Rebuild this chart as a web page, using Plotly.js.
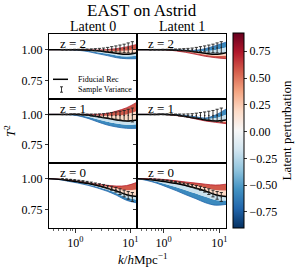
<!DOCTYPE html>
<html><head><meta charset="utf-8">
<script src="https://cdn.plot.ly/plotly-3.0.1.min.js"></script>
<style>body{margin:0;background:#fff}#plot{width:301px;height:273px}</style>
</head><body><div id="plot"></div>
<script>
// ---- data ----
const kGrid = [0.33, 0.5, 0.75, 1.1, 1.7, 2.5, 3.8, 5.6, 8.5, 13.2];
const levels = [-0.9, -0.45, 0, 0.45, 0.9];

const fidZ2 = [1.0, 1.0, 1.0, 0.999, 0.996, 0.99, 0.98, 0.97, 0.962, 0.975];
const fidZ1 = [1.0, 1.0, 1.0, 1.0, 0.994, 0.982, 0.968, 0.955, 0.946, 0.955];
const fidZ0 = [1.0, 0.995, 0.985, 0.974, 0.96, 0.944, 0.922, 0.9, 0.87, 0.855];

// z = 2, latent 0
const z2L0_m090 = [1.0, 1.0, 0.999, 0.995, 0.984, 0.968, 0.952, 0.935, 0.927, 0.927];
const z2L0_m045 = [1.0, 1.0, 1.0, 0.997, 0.99, 0.979, 0.966, 0.953, 0.945, 0.951];
const z2L0_p045 = [1.0, 1.0, 1.0, 0.999, 0.998, 0.994, 0.99, 0.989, 0.992, 1.008];
const z2L0_p090 = [1.0, 1.0, 1.0, 1.0, 0.999, 0.997, 1.0, 1.008, 1.022, 1.042];
// z = 2, latent 1
const z2L1_m090 = [1.0, 1.0, 1.0, 1.0, 0.998, 0.995, 0.995, 1.008, 1.032, 1.06];
const z2L1_m045 = [1.0, 1.0, 1.0, 1.0, 0.997, 0.992, 0.987, 0.988, 0.997, 1.017];
const z2L1_p045 = [1.0, 1.0, 1.0, 0.999, 0.993, 0.984, 0.971, 0.958, 0.948, 0.951];
const z2L1_p090 = [1.0, 1.0, 1.0, 0.998, 0.989, 0.978, 0.962, 0.946, 0.935, 0.927];
// z = 1, latent 0
const z1L0_m090 = [1.0, 1.0, 0.998, 0.989, 0.967, 0.94, 0.913, 0.897, 0.886, 0.886];
const z1L0_m045 = [1.0, 1.0, 0.999, 0.995, 0.981, 0.961, 0.94, 0.926, 0.916, 0.92];
const z1L0_p045 = [1.0, 1.0, 1.0, 1.0, 0.997, 0.991, 0.988, 0.991, 1.0, 1.027];
const z1L0_p090 = [1.0, 1.0, 1.0, 1.0, 1.0, 1.0, 1.008, 1.027, 1.054, 1.1];
// z = 1, latent 1
const z1L1_m090 = [1.0, 1.0, 1.0, 1.0, 0.997, 0.99, 0.98, 0.97, 0.995, 1.043];
const z1L1_m045 = [1.0, 1.0, 1.0, 1.0, 0.996, 0.986, 0.974, 0.962, 0.97, 0.998];
const z1L1_p045 = [1.0, 1.0, 1.0, 1.0, 0.992, 0.981, 0.965, 0.95, 0.94, 0.94];
const z1L1_p090 = [1.0, 1.0, 1.0, 0.999, 0.99, 0.98, 0.962, 0.946, 0.935, 0.924];
// z = 0, latent 0
const z0L0_m090 = [1.0, 0.993, 0.978, 0.965, 0.946, 0.925, 0.898, 0.866, 0.825, 0.804];
const z0L0_m045 = [1.0, 0.994, 0.982, 0.97, 0.953, 0.935, 0.91, 0.883, 0.848, 0.83];
const z0L0_p045 = [1.0, 0.995, 0.986, 0.976, 0.963, 0.95, 0.934, 0.92, 0.907, 0.912];
const z0L0_p090 = [1.0, 0.996, 0.988, 0.978, 0.966, 0.955, 0.946, 0.94, 0.944, 0.97];
// z = 0, latent 1
const z0L1_m090 = [1.0, 0.985, 0.963, 0.935, 0.902, 0.87, 0.838, 0.806, 0.786, 0.792];
const z0L1_m045 = [1.0, 0.99, 0.974, 0.955, 0.931, 0.907, 0.88, 0.853, 0.828, 0.823];
const z0L1_p045 = [1.0, 0.998, 0.991, 0.983, 0.971, 0.958, 0.943, 0.927, 0.909, 0.905];
const z0L1_p090 = [1.0, 1.0, 0.997, 0.992, 0.982, 0.973, 0.964, 0.955, 0.948, 0.955];

// sample variance points
const kErr = [0.58, 0.69, 0.82, 0.97, 1.15, 1.37, 1.63, 1.94, 2.30, 2.73, 3.25, 3.86, 4.58, 5.45, 6.47, 7.69, 9.13, 10.85];
const errZ2mean = [1.0, 1.0, 1.0, 1.0, 1.0, 1.0, 1.0, 1.0, 1.0, 1.0, 1.0, 1.002, 1.004, 1.006, 1.008, 1.01, 1.014, 1.018];
const errZ2sig  = [0.002, 0.002, 0.002, 0.003, 0.003, 0.004, 0.005, 0.006, 0.008, 0.01, 0.013, 0.016, 0.02, 0.024, 0.029, 0.034, 0.04, 0.046];
const errZ1mean = [1.0, 1.0, 1.0, 1.0, 1.0, 0.999, 0.997, 0.995, 0.993, 0.991, 0.99, 0.99, 0.99, 0.99, 0.99, 0.99, 0.992, 0.995];
const errZ1sig  = [0.002, 0.002, 0.003, 0.003, 0.004, 0.005, 0.006, 0.008, 0.01, 0.013, 0.016, 0.02, 0.025, 0.03, 0.036, 0.042, 0.05, 0.057];
const errZ0mean = [0.997, 0.995, 0.992, 0.988, 0.984, 0.979, 0.973, 0.966, 0.958, 0.95, 0.942, 0.932, 0.922, 0.91, 0.895, 0.88, 0.865, 0.852];
const errZ0sig  = [0.002, 0.002, 0.002, 0.003, 0.003, 0.004, 0.005, 0.006, 0.007, 0.009, 0.011, 0.013, 0.016, 0.019, 0.023, 0.027, 0.031, 0.036];

const colLabels = ['Latent 0', 'Latent 1'];
const rowLabels = ['z = 2', 'z = 1', 'z = 0'];
const xTickVals = [1, 10];
const xTickText = ['10<sup>0</sup>', '10<sup>1</sup>'];
const yTickVals = [0.75, 1.0];
const yTickText = ['0.75', '1.00'];
const cbTickVals = [-0.75, -0.5, -0.25, 0, 0.25, 0.5, 0.75];
const cbTickText = ['\u22120.75', '\u22120.50', '\u22120.25', '0.00', '0.25', '0.50', '0.75'];
const cMin = -0.9, cMax = 0.92;

// ---- styling / assembly ----
const stops = [[0,[5,48,97]],[0.1,[33,102,172]],[0.2,[67,147,195]],[0.3,[146,197,222]],[0.4,[209,229,240]],[0.5,[247,247,247]],[0.6,[253,219,199]],[0.7,[244,165,130]],[0.8,[214,96,77]],[0.9,[178,24,43]],[1,[103,0,31]]];
const colorscale = stops.map(s => [s[0], 'rgb(' + s[1].join(',') + ')']);
function cmap(v) {
  let t = (v - cMin) / (cMax - cMin); t = Math.max(0, Math.min(1, t));
  for (let i = 0; i < stops.length - 1; i++) {
    const a = stops[i], b = stops[i + 1];
    if (t <= b[0]) {
      const f = (t - a[0]) / (b[0] - a[0]);
      return 'rgb(' + a[1].map((c, j) => Math.round(c + f * (b[1][j] - c))).join(',') + ')';
    }
  }
  return 'rgb(103,0,31)';
}

const panels = [
  {fan: [z2L0_m090, z2L0_m045, fidZ2, z2L0_p045, z2L0_p090], fid: fidZ2, em: errZ2mean, es: errZ2sig},
  {fan: [z2L1_m090, z2L1_m045, fidZ2, z2L1_p045, z2L1_p090], fid: fidZ2, em: errZ2mean, es: errZ2sig},
  {fan: [z1L0_m090, z1L0_m045, fidZ1, z1L0_p045, z1L0_p090], fid: fidZ1, em: errZ1mean, es: errZ1sig},
  {fan: [z1L1_m090, z1L1_m045, fidZ1, z1L1_p045, z1L1_p090], fid: fidZ1, em: errZ1mean, es: errZ1sig},
  {fan: [z0L0_m090, z0L0_m045, fidZ0, z0L0_p045, z0L0_p090], fid: fidZ0, em: errZ0mean, es: errZ0sig},
  {fan: [z0L1_m090, z0L1_m045, fidZ0, z0L1_p045, z0L1_p090], fid: fidZ0, em: errZ0mean, es: errZ0sig}
];

const W = 301, H = 273;
const px = v => v / W, py = v => (H - v) / H;
const colDom = [[px(49), px(137)], [px(137), px(226)]];
const rowDom = [[py(99), py(34)], [py(163), py(99)], [py(228), py(163)]];
const rowTop = [34, 99, 163];
const colLeft = [49, 137];
const FONT = 'Liberation Serif, DejaVu Serif, serif';

const data = [];
const layout = {
  width: W, height: H, margin: {l: 0, r: 0, t: 0, b: 0},
  paper_bgcolor: '#fff', plot_bgcolor: '#fff', showlegend: false,
  font: {family: FONT, size: 12, color: '#000'},
  annotations: [], shapes: []
};

panels.forEach((p, i) => {
  const r = Math.floor(i / 2), c = i % 2, n = i + 1;
  const xa = 'x' + (n > 1 ? n : ''), ya = 'y' + (n > 1 ? n : '');
  // fan bands
  p.fan.forEach((arr, j) => {
    const tr = {x: kGrid, y: arr, xaxis: xa, yaxis: ya, type: 'scatter', mode: 'lines',
      line: {shape: 'spline', width: 0}, hoverinfo: 'skip'};
    if (j === 0 || j === p.fan.length - 1) {
      tr.line = {shape: 'spline', width: 0.8, color: cmap(levels[j] * 0.8)};
    }
    if (j > 0) {
      tr.fill = 'tonexty';
      tr.fillcolor = cmap(0.85 * (levels[j] + levels[j - 1]) / 2);
    }
    data.push(tr);
  });
  // fiducial
  data.push({x: kGrid, y: p.fid, xaxis: xa, yaxis: ya, type: 'scatter', mode: 'lines',
    line: {shape: 'spline', width: 1.5, color: '#000'}, hoverinfo: 'skip'});
  // sample variance
  data.push({x: kErr, y: p.em, xaxis: xa, yaxis: ya, type: 'scatter', mode: 'markers',
    marker: {size: 1.5, color: '#222'}, hoverinfo: 'skip',
    error_y: {type: 'data', array: p.es, visible: true, color: '#222', thickness: 0.9, width: 1.6}});

  const bottom = r === 2;
  layout['xaxis' + (n > 1 ? n : '')] = {
    type: 'log', range: [-0.48, 1.12], domain: colDom[c], anchor: ya,
    showline: true, mirror: true, linecolor: '#000', linewidth: 1, showgrid: false, zeroline: false,
    ticks: bottom ? 'outside' : '', ticklen: 3.5, tickwidth: 0.8, tickcolor: '#000',
    tickmode: 'array', tickvals: xTickVals, ticktext: xTickText, showticklabels: bottom,
    tickfont: {family: FONT, size: 12, color: '#000'},
    minor: bottom ? {ticks: 'outside', ticklen: 2, tickwidth: 0.6, tickcolor: '#000',
      tickvals: [0.4,0.5,0.6,0.7,0.8,0.9,2,3,4,5,6,7,8,9]} : {}
  };
  layout['yaxis' + (n > 1 ? n : '')] = {
    range: [0.602, 1.126], domain: rowDom[r], anchor: xa,
    showline: true, mirror: true, linecolor: '#000', linewidth: 1, showgrid: false, zeroline: false,
    ticks: 'outside', ticklen: 3, tickwidth: 0.8, tickcolor: '#000',
    tickmode: 'array', tickvals: yTickVals, ticktext: yTickText, showticklabels: c === 0,
    tickfont: {family: FONT, size: 12, color: '#000'}
  };
  layout.annotations.push({xref: 'paper', yref: 'paper', x: px(colLeft[c] + 9), y: py(rowTop[r] + 9),
    xanchor: 'left', yanchor: 'middle', text: rowLabels[r], showarrow: false,
    font: {family: FONT, size: 13, color: '#000'}});
});

// colorbar carrier
data.push({x: [1, 1], y: [-5, -5], xaxis: 'x', yaxis: 'y', type: 'scatter', mode: 'markers', hoverinfo: 'skip',
  marker: {size: 1, opacity: 0, color: [cMin, cMax], cmin: cMin, cmax: cMax, colorscale: colorscale, showscale: true,
    colorbar: {x: px(233), xanchor: 'left', y: py(228), yanchor: 'bottom',
      thickness: 11, thicknessmode: 'pixels', len: 195, lenmode: 'pixels',
      outlinewidth: 1, outlinecolor: '#000', ticks: 'outside', ticklen: 3, tickwidth: 0.8, tickcolor: '#000',
      tickmode: 'array', tickvals: cbTickVals, ticktext: cbTickText,
      tickfont: {family: FONT, size: 12, color: '#000'},
      title: {text: 'Latent perturbation', side: 'right', font: {family: FONT, size: 13, color: '#000'}},
      xpad: 0, ypad: 0}}});

// titles
layout.annotations.push({xref: 'paper', yref: 'paper', x: px(142), y: py(10.5), xanchor: 'center', yanchor: 'middle',
  text: 'EAST on Astrid', showarrow: false, font: {family: FONT, size: 17, color: '#000'}});
colLabels.forEach((t, c) => layout.annotations.push({xref: 'paper', yref: 'paper',
  x: (colDom[c][0] + colDom[c][1]) / 2, y: py(26.5), xanchor: 'center', yanchor: 'middle',
  text: t, showarrow: false, font: {family: FONT, size: 14, color: '#000'}}));
layout.annotations.push({xref: 'paper', yref: 'paper', x: px(142), y: py(259), xanchor: 'center', yanchor: 'middle',
  text: '<i>k</i>/<i>h</i>Mpc<sup>\u22121</sup>', showarrow: false, font: {family: FONT, size: 13, color: '#000'}});
layout.annotations.push({xref: 'paper', yref: 'paper', x: px(10), y: py(131), xanchor: 'center', yanchor: 'middle',
  text: '<i>T</i><sup>2</sup>', textangle: -90, showarrow: false, font: {family: FONT, size: 13, color: '#000'}});

// legend (top-left panel)
layout.shapes.push({type: 'line', xref: 'paper', yref: 'paper', x0: px(53), x1: px(68), y0: py(79.3), y1: py(79.3),
  line: {color: '#000', width: 1.5}});
layout.shapes.push({type: 'line', xref: 'paper', yref: 'paper', x0: px(61.5), x1: px(61.5), y0: py(86.8), y1: py(92.2),
  line: {color: '#222', width: 0.9}});
layout.shapes.push({type: 'line', xref: 'paper', yref: 'paper', x0: px(60), x1: px(63), y0: py(86.8), y1: py(86.8),
  line: {color: '#222', width: 0.9}});
layout.shapes.push({type: 'line', xref: 'paper', yref: 'paper', x0: px(60), x1: px(63), y0: py(92.2), y1: py(92.2),
  line: {color: '#222', width: 0.9}});
layout.annotations.push({xref: 'paper', yref: 'paper', x: px(76), y: py(79.3), xanchor: 'left', yanchor: 'middle',
  text: 'Fiducial Rec', showarrow: false, font: {family: FONT, size: 8, color: '#000'}});
layout.annotations.push({xref: 'paper', yref: 'paper', x: px(76), y: py(89.5), xanchor: 'left', yanchor: 'middle',
  text: 'Sample Variance', showarrow: false, font: {family: FONT, size: 8, color: '#000'}});

Plotly.newPlot('plot', data, layout, {staticPlot: true});
</script></body></html>
